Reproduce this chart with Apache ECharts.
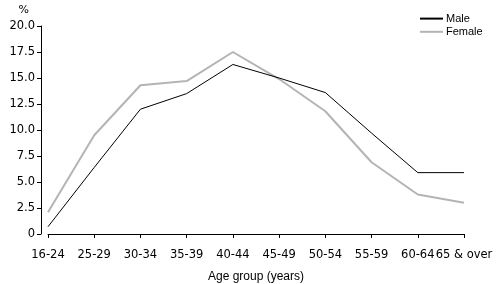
<!DOCTYPE html>
<html><head><meta charset="utf-8">
<script src="https://cdn.jsdelivr.net/npm/echarts@6/dist/echarts.min.js"></script>
<style>html,body{margin:0;padding:0;background:#fff}#c{width:496px;height:284px}</style>
</head><body><div id="c"></div>
<script>
var categories = ['16-24','25-29','30-34','35-39','40-44','45-49','50-54','55-59','60-64','65 & over'];
var male = [0.7, 6.4, 12.0, 13.5, 16.3, 15.0, 13.6, 9.7, 5.9, 5.9];
var female = [2.1, 9.5, 14.3, 14.7, 17.5, 14.9, 11.8, 6.9, 3.8, 3.0];
var yTicks = ['0','2.5','5.0','7.5','10.0','12.5','15.0','17.5','20.0'];

var chart = echarts.init(document.getElementById('c'), null, {renderer:'canvas'});
chart.setOption({
  animation:false,
  backgroundColor:'#fff',
  grid:{left:48, right:32, top:26, bottom:50, containLabel:false, outerBoundsMode:'none'},
  legend:{
    orient:'vertical', left:414, top:8, itemWidth:23, itemHeight:14, itemGap:2,
    itemStyle:{opacity:0},
    textStyle:{fontFamily:'Liberation Sans', fontSize:11, color:'#000', padding:[0,0,0,-2]},
    data:['Male','Female']
  },
  xAxis:{
    type:'category', data:categories, boundaryGap:false, offset:8,
    axisLine:{lineStyle:{color:'#000', width:1}},
    axisTick:{alignWithLabel:true, length:4, lineStyle:{color:'#000'}},
    axisLabel:{color:'#000', fontFamily:'DejaVu Sans', fontSize:11.5, margin:7, interval:0, hideOverlap:false},
    name:'Age group (years)', nameLocation:'middle', nameGap:29,
    nameTextStyle:{fontFamily:'Liberation Sans', fontSize:12, color:'#000'}
  },
  yAxis:{
    type:'value', min:0, max:20, interval:2.5, offset:7,
    axisLine:{show:true, lineStyle:{color:'#000', width:1}},
    axisTick:{show:true, length:4, lineStyle:{color:'#000'}},
    splitLine:{show:false},
    axisLabel:{color:'#000', fontFamily:'DejaVu Sans', fontSize:11.5, margin:6,
      formatter:function(v){ return yTicks[Math.round(v/2.5)]; }},
    name:'%', nameLocation:'end', nameGap:10,
    nameTextStyle:{fontFamily:'DejaVu Sans', fontSize:11, color:'#000', align:'right', padding:[0,12,0,0]}
  },
  series:[
    {name:'Male', type:'line', data:male, symbol:'none', lineStyle:{color:'#000', width:1}, itemStyle:{color:'#000'}, z:3},
    {name:'Female', type:'line', data:female, symbol:'none', lineStyle:{color:'#b4b4b4', width:2}, itemStyle:{color:'#b4b4b4'}, z:2}
  ]
});
</script></body></html>
